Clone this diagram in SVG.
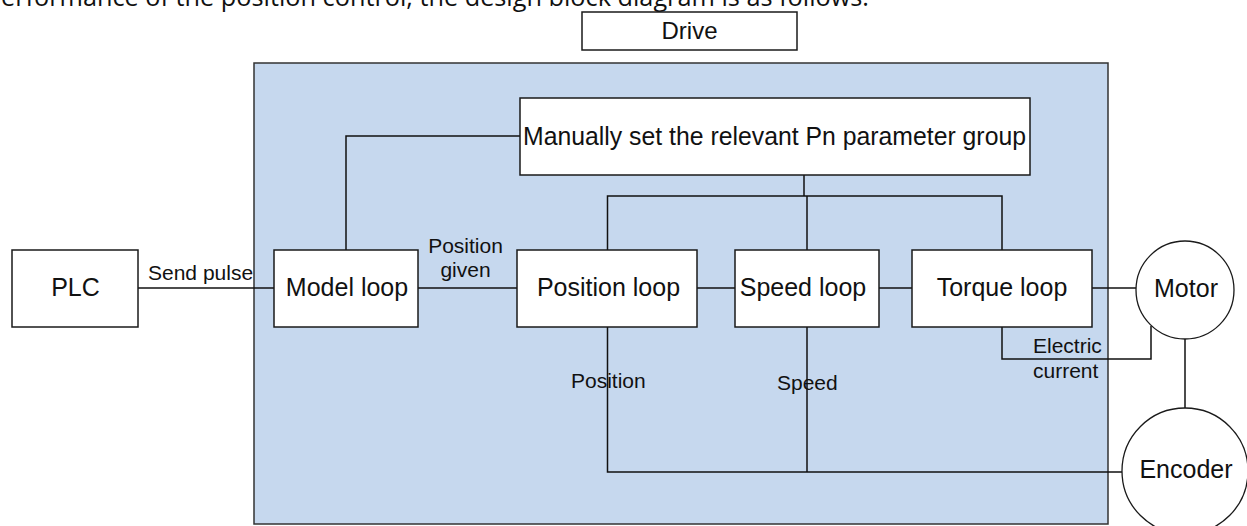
<svg xmlns="http://www.w3.org/2000/svg" width="1247" height="526" viewBox="0 0 1247 526">
  <style>
    .box { fill: #ffffff; stroke: #1a1a1a; stroke-width: 1.5; }
    .circ { fill: #ffffff; stroke: #1a1a1a; stroke-width: 1.3; }
    .wire { fill: none; stroke: #111111; stroke-width: 1.5; }
    .lbl { font-family: "Liberation Sans", Arial, sans-serif; font-size: 25px; fill: #111111; text-anchor: middle; }
    .sm { font-family: "Liberation Sans", Arial, sans-serif; font-size: 21px; fill: #111111; }
    .head { font-family: "Open Sans", "Noto Sans", sans-serif; font-size: 25px; fill: #111111; }
  </style>
  <rect width="1247" height="526" fill="#ffffff"/>
  <text class="head" x="1" y="6" textLength="868" lengthAdjust="spacingAndGlyphs">erformance of the position control, the design block diagram is as follows:</text>

  <g id="drive-area">
    <rect x="254" y="63" width="854" height="461" fill="#C6D8EE" stroke="#333333" stroke-width="1.5"/>
  </g>
  <g id="drive-label">
    <rect class="box" x="582" y="12" width="215" height="38"/>
    <text class="lbl" x="689.5" y="39" style="font-size:24px">Drive</text>
  </g>

  <g id="connectors">
    <path class="wire" d="M138,288 H274"/>
    <path class="wire" d="M418,288 H517"/>
    <path class="wire" d="M697,288 H735"/>
    <path class="wire" d="M879,288 H912"/>
    <path class="wire" d="M1092,288 H1136"/>
    <path class="wire" d="M346,250 V136 H520"/>
    <path class="wire" d="M804,175 V196"/>
    <path class="wire" d="M607.5,250 V196 H1002 V250"/>
    <path class="wire" d="M807,196 V250"/>
    <path class="wire" d="M1002,327 V359 H1151 V326"/>
    <path class="wire" d="M1185,339 V408"/>
    <path class="wire" d="M607.5,327 V472 H1122"/>
    <path class="wire" d="M807,327 V472"/>
  </g>

  <g id="labels">
    <text class="sm" x="148" y="280">Send pulse</text>
    <text class="sm" x="465.5" y="252.5" text-anchor="middle">Position</text>
    <text class="sm" x="465.5" y="276.5" text-anchor="middle">given</text>
    <text class="sm" x="571" y="388">Position</text>
    <text class="sm" x="777" y="390">Speed</text>
    <text class="sm" x="1033" y="353">Electric</text>
    <text class="sm" x="1033" y="378">current</text>
  </g>

  <g id="plc">
    <rect class="box" x="12" y="250" width="126" height="77"/>
    <text class="lbl" x="75.5" y="296">PLC</text>
  </g>
  <g id="model-loop">
    <rect class="box" x="274" y="250" width="144" height="77"/>
    <text class="lbl" x="347" y="296">Model loop</text>
  </g>
  <g id="param-group">
    <rect class="box" x="520" y="98" width="510" height="77"/>
    <text class="lbl" x="523" y="145" style="text-anchor:start" textLength="503" lengthAdjust="spacingAndGlyphs">Manually set the relevant Pn parameter group</text>
  </g>
  <g id="position-loop">
    <rect class="box" x="517" y="250" width="180" height="77"/>
    <text class="lbl" x="608.5" y="296">Position loop</text>
  </g>
  <g id="speed-loop">
    <rect class="box" x="735" y="250" width="144" height="77"/>
    <text class="lbl" x="803" y="296">Speed loop</text>
  </g>
  <g id="torque-loop">
    <rect class="box" x="912" y="250" width="180" height="77"/>
    <text class="lbl" x="1002" y="296">Torque loop</text>
  </g>
  <g id="motor">
    <circle class="circ" cx="1185" cy="290" r="49"/>
    <text class="lbl" x="1186" y="297">Motor</text>
  </g>
  <g id="encoder">
    <circle class="circ" cx="1185" cy="471" r="63"/>
    <text class="lbl" x="1186" y="478">Encoder</text>
  </g>
</svg>
